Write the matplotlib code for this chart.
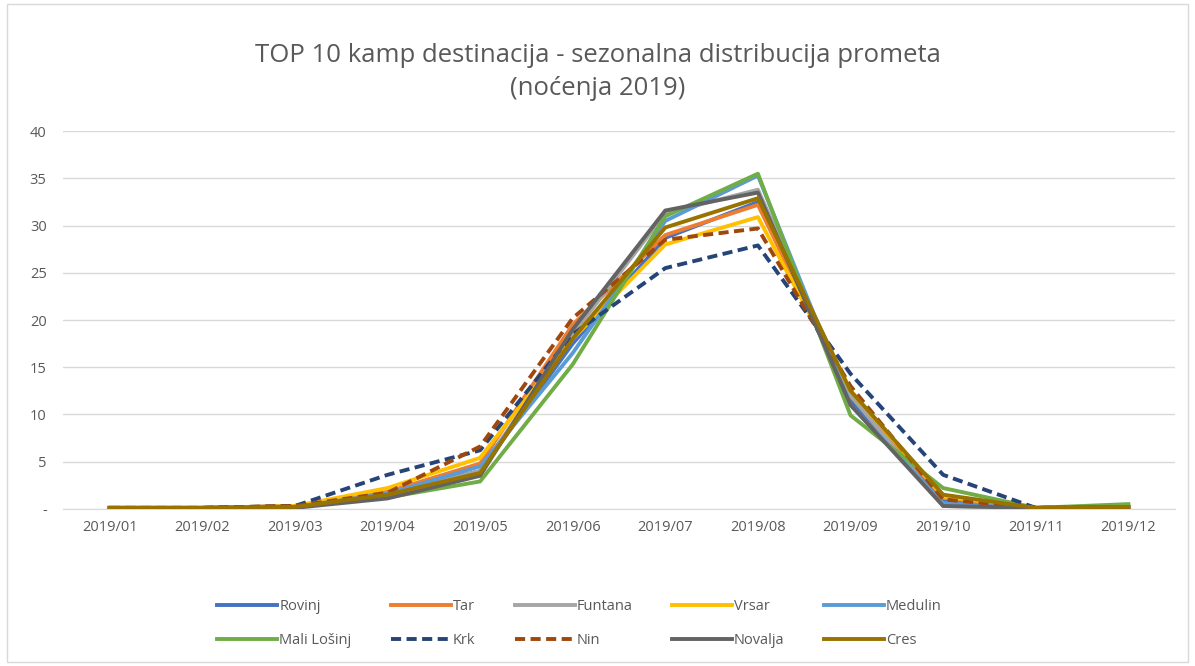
import matplotlib.pyplot as plt
from matplotlib.patches import Rectangle

plt.rcParams['font.family'] = ['Open Sans', 'DejaVu Sans']

months = ["2019/01", "2019/02", "2019/03", "2019/04", "2019/05", "2019/06",
          "2019/07", "2019/08", "2019/09", "2019/10", "2019/11", "2019/12"]

rovinj = [0.1, 0.1, 0.3, 1.6, 4.0, 17.5, 28.7, 32.5, 11.5, 0.8, 0.1, 0.2]
tar = [0.1, 0.1, 0.3, 1.8, 4.8, 19.5, 29.0, 32.2, 12.0, 1.2, 0.1, 0.2]
funtana = [0.1, 0.1, 0.2, 1.5, 4.0, 18.5, 31.3, 33.8, 12.0, 0.3, 0.1, 0.2]
vrsar = [0.1, 0.1, 0.3, 2.2, 5.4, 18.0, 28.0, 30.9, 12.5, 1.3, 0.1, 0.2]
medulin = [0.1, 0.1, 0.2, 1.6, 4.5, 16.5, 30.5, 35.3, 11.0, 0.6, 0.1, 0.2]
mali_losinj = [0.1, 0.1, 0.2, 1.2, 2.9, 15.3, 31.0, 35.5, 9.9, 2.2, 0.1, 0.5]
krk = [0.1, 0.1, 0.3, 3.6, 6.2, 18.5, 25.5, 27.9, 14.3, 3.6, 0.1, 0.1]
nin = [0.1, 0.1, 0.3, 1.7, 6.6, 20.2, 28.5, 29.7, 13.0, 1.0, 0.1, 0.2]
novalja = [0.1, 0.1, 0.1, 1.1, 3.5, 19.0, 31.6, 33.5, 11.0, 0.3, 0.1, 0.2]
cres = [0.1, 0.1, 0.2, 1.5, 3.8, 18.0, 29.8, 32.9, 12.5, 1.5, 0.1, 0.2]

series = [
    ("Rovinj", rovinj, "#4472C4", "-"),
    ("Tar", tar, "#ED7D31", "-"),
    ("Funtana", funtana, "#A5A5A5", "-"),
    ("Vrsar", vrsar, "#FFC000", "-"),
    ("Medulin", medulin, "#5B9BD5", "-"),
    ("Mali Lošinj", mali_losinj, "#70AD47", "-"),
    ("Krk", krk, "#264478", "--"),
    ("Nin", nin, "#9E480E", "--"),
    ("Novalja", novalja, "#636363", "-"),
    ("Cres", cres, "#997300", "-"),
]

fig = plt.figure(figsize=(11.95, 6.66), dpi=100)
fig.patches.append(Rectangle((0.006, 0.006), 0.988, 0.988, transform=fig.transFigure,
                             fill=False, edgecolor="#D9D9D9", linewidth=1))
ax = fig.add_axes([0.053, 0.236, 0.93, 0.567])

x = list(range(len(months)))
handles = []
for i, (name, vals, col, ls) in enumerate(series):
    if ls == "--":
        h, = ax.plot(x, vals, color=col, lw=2.8, linestyle=(0, (2.6, 1.4)),
                     label=name, zorder=3 + i)
    else:
        h, = ax.plot(x, vals, color=col, lw=2.8, label=name, zorder=3 + i)
    handles.append(h)

ax.set_xlim(-0.5, len(months) - 0.5)
ax.set_ylim(0, 40)
ax.set_yticks(range(0, 41, 5))
ax.set_yticklabels(["-"] + [str(v) for v in range(5, 41, 5)])
ax.set_xticks(x)
ax.set_xticklabels(months)
ax.tick_params(axis="both", length=0, labelsize=10.5, colors="#595959")
ax.tick_params(axis="x", pad=8)
ax.tick_params(axis="y", pad=12)
ax.grid(axis="y", color="#D9D9D9", linewidth=1)
ax.set_axisbelow(True)
for s in ["top", "right", "left"]:
    ax.spines[s].set_visible(False)
ax.spines["bottom"].set_color("#D9D9D9")

fig.text(0.5, 0.892, "TOP 10 kamp destinacija - sezonalna distribucija prometa\n(noćenja 2019)",
         ha="center", va="center", fontsize=18.5, color="#595959", linespacing=1.4)

# legend: row-major appearance with matplotlib's column-major fill
order = [0, 5, 1, 6, 2, 7, 3, 8, 4, 9]
leg = fig.legend([handles[i] for i in order], [series[i][0] for i in order],
                 loc="center", bbox_to_anchor=(0.485, 0.064), ncol=5, frameon=False,
                 fontsize=10.5, handlelength=4.1, handletextpad=0.15, columnspacing=2.7,
                 labelspacing=1.3)
for t in leg.get_texts():
    t.set_color("#595959")

fig.savefig("out.png", dpi=100)
